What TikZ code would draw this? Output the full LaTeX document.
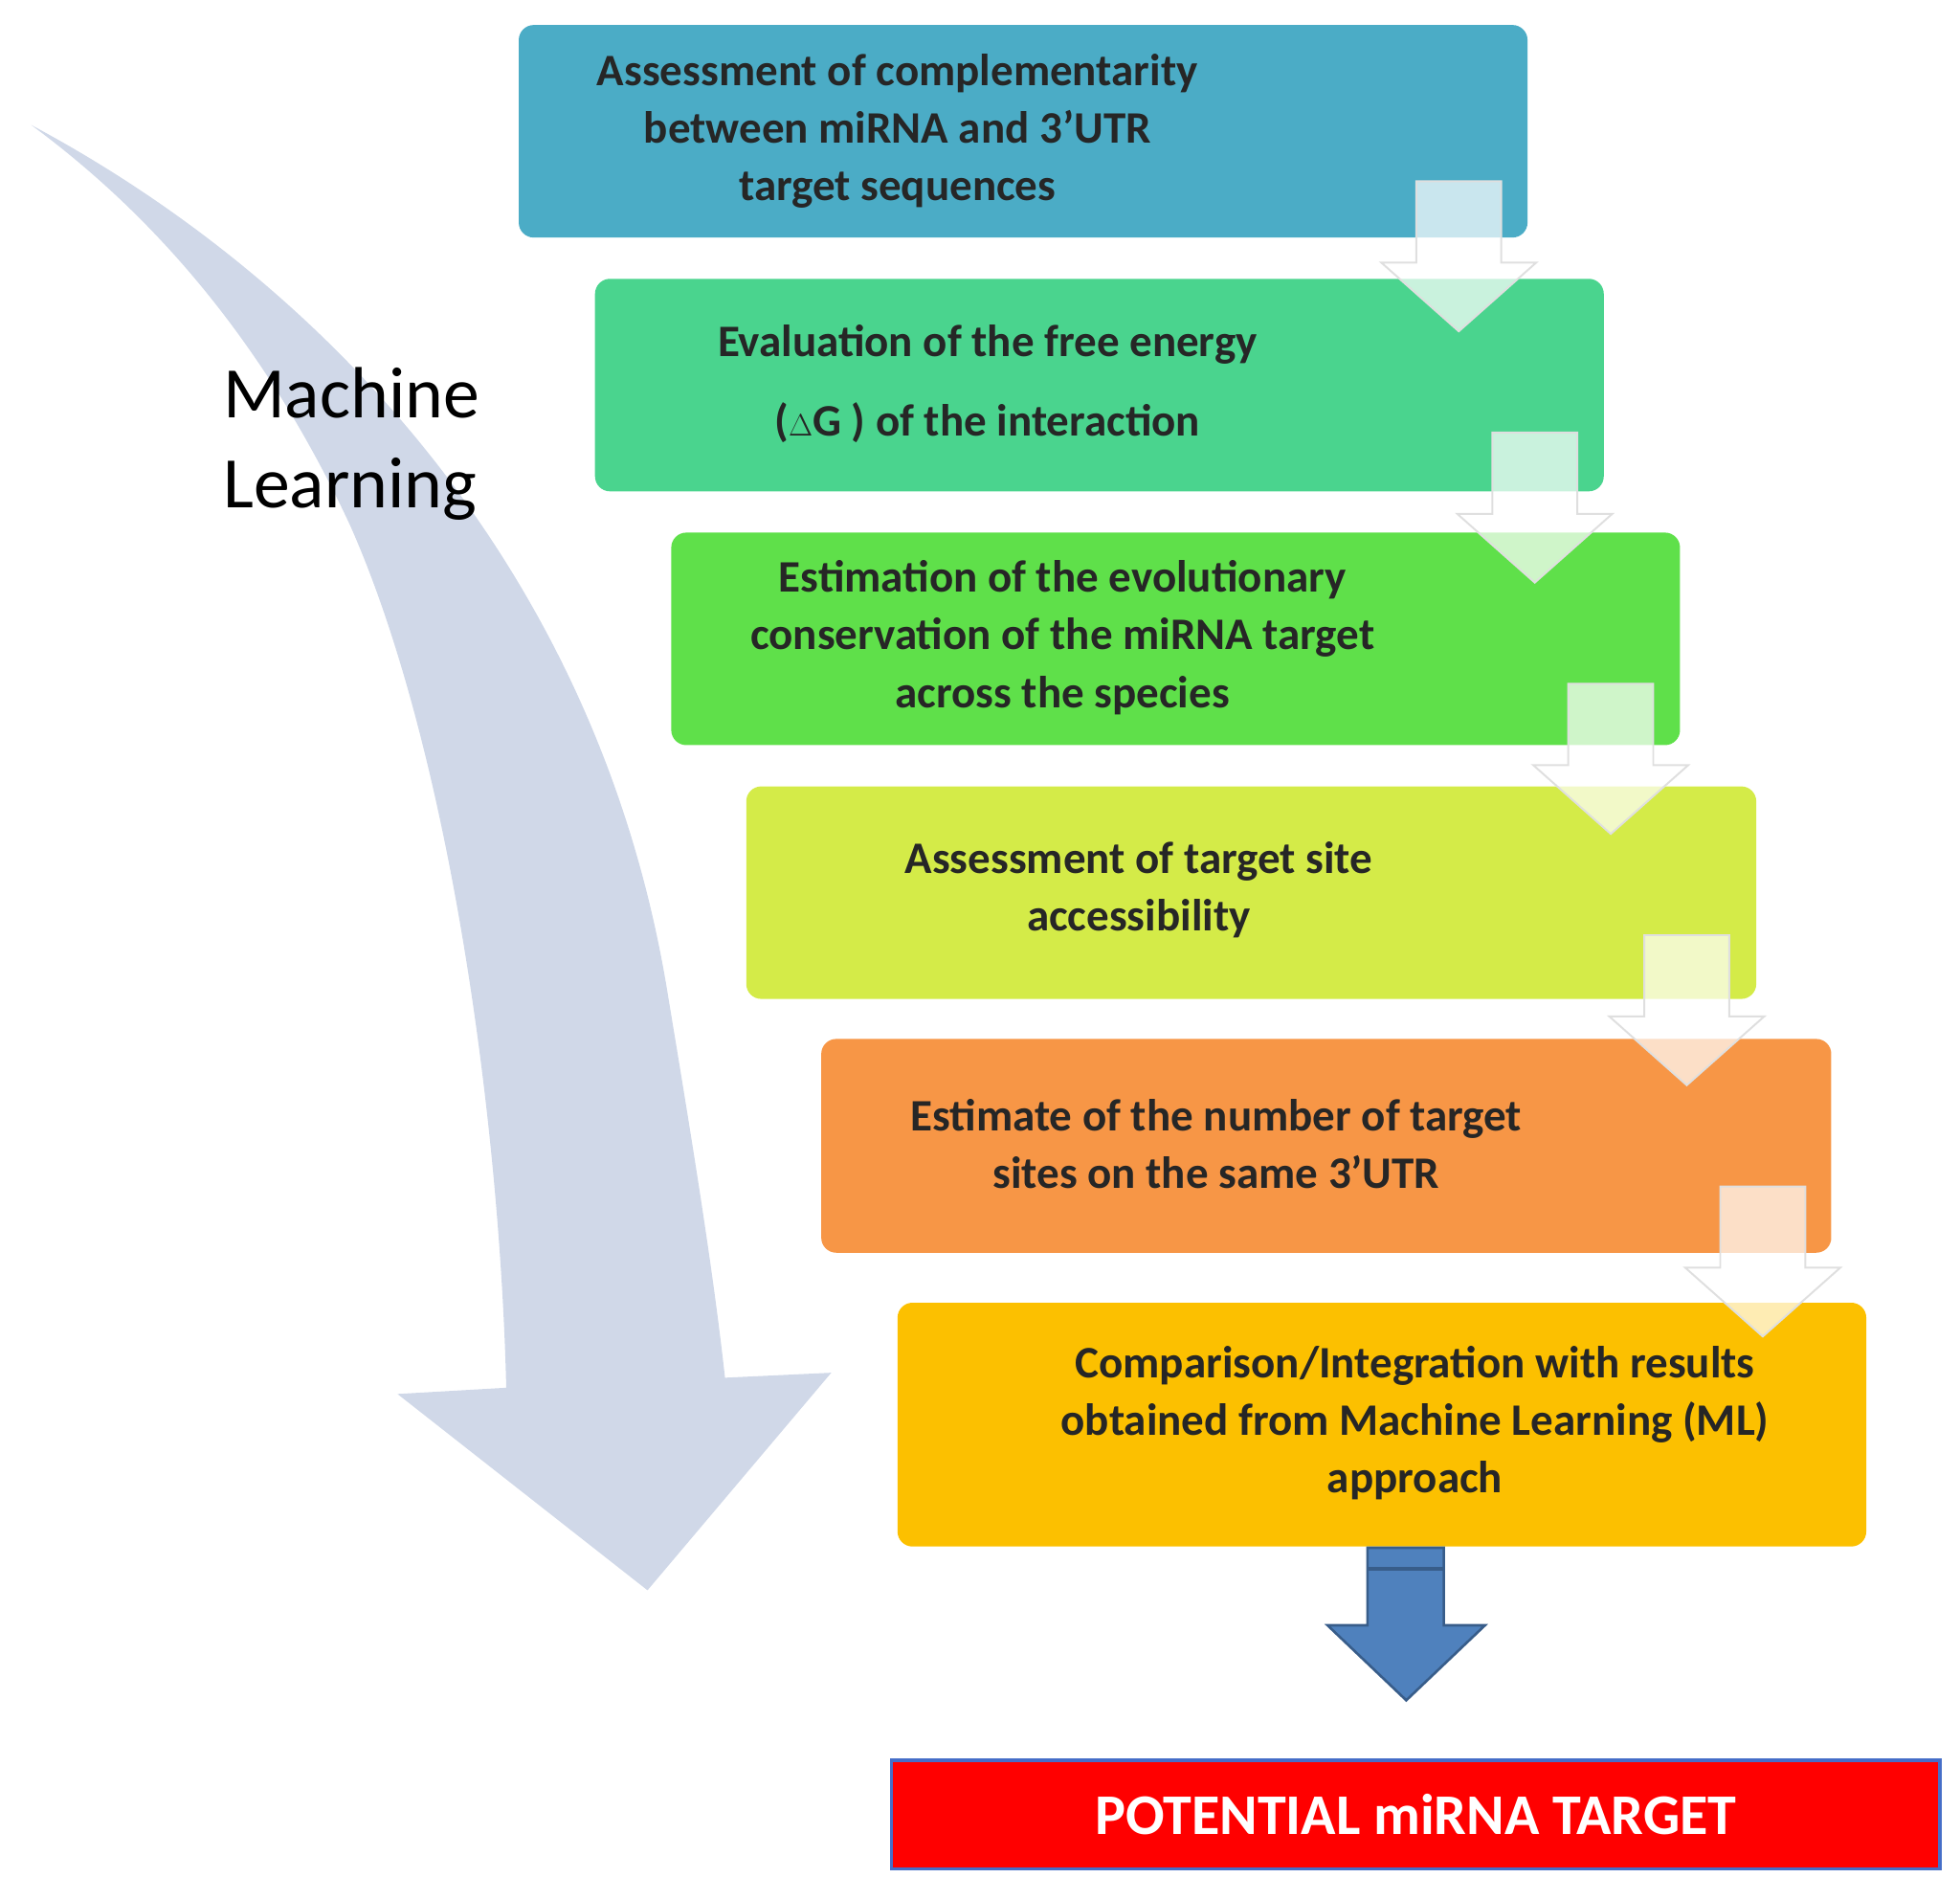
\documentclass[tikz,border=0pt]{standalone}
\usepackage{fontspec}
\setmainfont{Carlito}
\definecolor{c1}{RGB}{75,172,198}
\definecolor{c2}{RGB}{74,212,142}
\definecolor{c3}{RGB}{95,224,74}
\definecolor{c4}{RGB}{212,235,72}
\definecolor{c5}{RGB}{247,150,70}
\definecolor{c6}{RGB}{252,192,0}
\definecolor{bfill}{RGB}{79,129,189}
\definecolor{bdraw}{RGB}{56,93,138}
\definecolor{fborder}{RGB}{70,110,200}
\definecolor{curve}{RGB}{208,216,232}
\begin{document}
\begin{tikzpicture}[x=1pt,y=-1pt,
  box/.style={rounded corners=12pt},
  txt/.style={font=\bfseries\fontsize{36}{46}\selectfont,align=center,text=black!85},
  pale/.style={fill=white,fill opacity=0.7,draw=white!75!gray,line width=1.5pt}]
\useasboundingbox (0,0) rectangle (1568,1519);
% big curved arrow
\fill[curve] (25,100) .. controls (250,220) and (480,450) .. (535,800)
  .. controls (560,950) and (572,1030) .. (580,1102) -- (665,1098) -- (518,1272) -- (318,1115) -- (405,1110)
  .. controls (400,900) and (360,600) .. (280,420) .. controls (210,270) and (120,170) .. (25,100) -- cycle;
\node[font=\fontsize{58}{72}\selectfont,align=left,anchor=west] (ml) at (175,355) {Machine\\Learning};
% boxes
\fill[box,fill=c1] (415,20) rectangle (1222,190);
\node[txt] (t1) at (718,105) {Assessment of complementarity\\between miRNA and 3’UTR\\target sequences};
\fill[box,fill=c2] (476,223) rectangle (1283,393);
\node[txt,font=\bfseries\fontsize{36}{63}\selectfont] (t2) at (790,307) {Evaluation of the free energy\\($\Delta$G ) of the interaction};
\fill[box,fill=c3] (537,426) rectangle (1344,596);
\node[txt] (t3) at (850,510) {Estimation of the evolutionary\\conservation of the miRNA target\\across the species};
\fill[box,fill=c4] (597,629) rectangle (1405,799);
\node[txt] (t4) at (911,712) {Assessment of target site\\accessibility};
\fill[box,fill=c5] (657,831) rectangle (1465,1002);
\node[txt] (t5) at (973,915) {Estimate of the number of target\\sites on the same 3’UTR};
\fill[box,fill=c6] (718,1042) rectangle (1493,1237);
\node[txt] (t6) at (1132,1138) {Comparison/Integration with results\\obtained from Machine Learning (ML)\\approach};
% pale arrows
\foreach \i in {0,...,4}{
  \pgfmathsetmacro{\cx}{1167+60.8*\i}
  \pgfmathsetmacro{\ty}{145+201*\i}
  \draw[pale] (\cx-34,\ty) -- (\cx+34,\ty) -- (\cx+34,\ty+65) -- (\cx+62,\ty+65) -- (\cx,\ty+120)
    -- (\cx-62,\ty+65) -- (\cx-34,\ty+65) -- cycle;
}
% blue arrow
\filldraw[fill=bfill,draw=bdraw,line width=2pt]
  (1094,1238) -- (1155,1238) -- (1155,1300) -- (1188,1300) -- (1125,1360) -- (1062,1300) -- (1094,1300) -- cycle;
\draw[bdraw,line width=3pt] (1094,1255) -- (1155,1255);
% final
\node[draw=fborder,line width=2.5pt,fill=red,minimum width=839pt,minimum height=87pt,
  text=white,font=\bfseries\fontsize{46}{50}\selectfont] (fin) at (1132.5,1451.5) {POTENTIAL miRNA TARGET};
\end{tikzpicture}
\end{document}
